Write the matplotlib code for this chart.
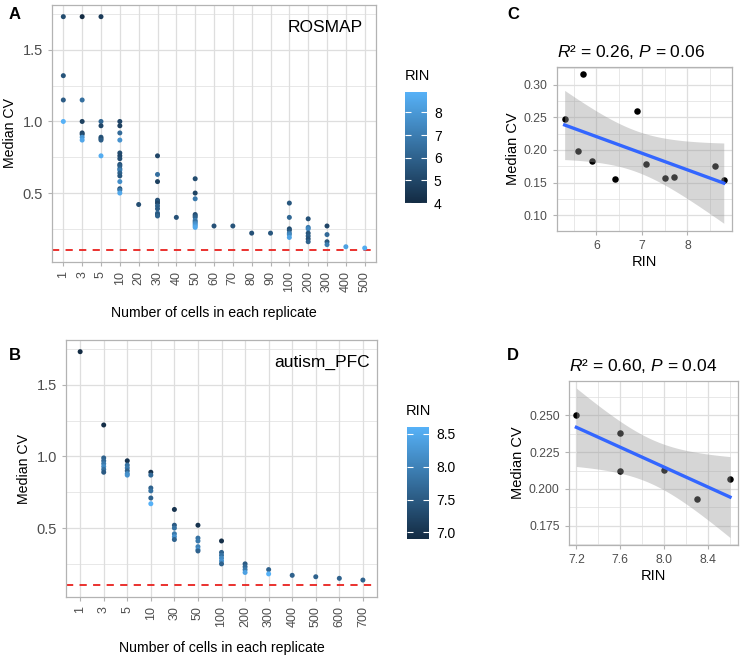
import numpy as np
import matplotlib
matplotlib.use("Agg")
import matplotlib.pyplot as plt
from matplotlib.colors import LinearSegmentedColormap, Normalize
from matplotlib.ticker import MultipleLocator

plt.rcParams['font.family'] = ['Liberation Sans', 'DejaVu Sans']
plt.rcParams['mathtext.fontset'] = 'custom'
plt.rcParams['mathtext.rm'] = 'Liberation Sans'
plt.rcParams['mathtext.it'] = 'Liberation Sans:italic'

# ---- Panel A: ROSMAP ----
a_levels = ['1', '3', '5', '10', '20', '30', '40', '50', '60', '70', '80', '90',
            '100', '200', '300', '400', '500']
a_cells = (['1'] * 4 + ['3'] * 7 + ['5'] * 7 + ['10'] * 17 + ['20'] + ['30'] * 11 + ['40']
           + ['50'] * 12 + ['60', '70', '80', '90'] + ['100'] * 7 + ['200'] * 7
           + ['300'] * 4 + ['400', '500'])
a_cv = [1.732, 1.32, 1.15, 1.00,
        1.732, 1.15, 1.00, 0.92, 0.91, 0.89, 0.87,
        1.732, 1.00, 0.97, 0.89, 0.88, 0.87, 0.76,
        1.00, 0.97, 0.92, 0.87, 0.78, 0.76, 0.74, 0.70, 0.69, 0.67, 0.66, 0.64, 0.62, 0.58, 0.53, 0.52, 0.50,
        0.42,
        0.76, 0.63, 0.58, 0.45, 0.44, 0.43, 0.41, 0.39, 0.36, 0.35, 0.34,
        0.33,
        0.60, 0.50, 0.46, 0.35, 0.34, 0.33, 0.31, 0.30, 0.29, 0.28, 0.27, 0.26,
        0.27, 0.27, 0.22, 0.22,
        0.43, 0.33, 0.25, 0.24, 0.22, 0.21, 0.19,
        0.32, 0.26, 0.25, 0.22, 0.20, 0.18, 0.16,
        0.27, 0.21, 0.16, 0.14,
        0.125, 0.116]
a_rin = [5.2, 5.5, 5.8, 8.9,
         4.0, 6.5, 4.8, 5.0, 5.2, 8.0, 8.5,
         4.6, 6.2, 5.0, 5.5, 5.2, 5.8, 8.7,
         5.0, 4.8, 6.3, 7.8, 5.2, 5.0, 5.3, 5.5, 5.8, 6.2, 7.0, 6.0, 5.6, 7.6, 5.4, 6.8, 8.6,
         5.3,
         5.0, 6.5, 4.8, 5.3, 5.6, 5.0, 6.0, 5.8, 6.3, 5.5, 6.0,
         5.4,
         5.2, 4.9, 6.8, 5.2, 5.6, 6.0, 7.0, 6.5, 7.4, 7.8, 8.2, 8.6,
         5.4, 5.5, 5.4, 5.6,
         5.6, 6.2, 5.2, 5.5, 6.8, 7.5, 8.4,
         5.4, 6.8, 7.4, 5.5, 5.8, 5.4, 6.0,
         5.0, 6.3, 5.6, 7.0,
         8.3, 8.7]

# ---- Panel B: autism_PFC ----
b_levels = ['1', '3', '5', '10', '30', '50', '100', '200', '300', '400', '500', '600', '700']
b_cells = (['1'] + ['3'] * 7 + ['5'] * 6 + ['10'] * 6 + ['30'] * 6 + ['50'] * 6
           + ['100'] * 6 + ['200'] * 4 + ['300'] * 2 + ['400', '500', '600', '700'])
b_cv = [1.732,
        1.22, 0.99, 0.97, 0.95, 0.93, 0.91, 0.89,
        0.97, 0.94, 0.92, 0.90, 0.88, 0.87,
        0.89, 0.87, 0.78, 0.76, 0.71, 0.67,
        0.63, 0.52, 0.50, 0.46, 0.44, 0.42,
        0.52, 0.43, 0.41, 0.37, 0.35, 0.34,
        0.41, 0.33, 0.31, 0.29, 0.27, 0.25,
        0.25, 0.23, 0.21, 0.19,
        0.21, 0.18,
        0.17, 0.16, 0.149, 0.137]
b_rin = [6.9,
         6.95, 7.6, 7.7, 7.9, 8.1, 7.8, 7.5,
         7.0, 7.8, 7.9, 7.6, 8.1, 8.2,
         7.0, 7.7, 7.6, 7.8, 7.6, 8.6,
         7.0, 7.5, 7.8, 7.9, 8.2, 7.6,
         7.0, 7.8, 7.9, 8.0, 8.2, 7.6,
         6.95, 7.6, 7.8, 8.1, 8.2, 7.6,
         7.5, 7.7, 7.9, 8.4,
         7.6, 8.6,
         7.6, 7.6, 7.6, 7.6]

# ---- Panels C, D: median CV vs RIN ----
c_rin = [5.3, 5.6, 5.7, 5.9, 6.4, 6.9, 7.1, 7.5, 7.7, 8.6, 8.8]
c_cv = [0.248, 0.199, 0.316, 0.183, 0.155, 0.259, 0.178, 0.157, 0.158, 0.176, 0.154]
d_rin = [7.2, 7.6, 7.6, 8.0, 8.3, 8.6]
d_cv = [0.250, 0.2377, 0.2122, 0.2129, 0.1929, 0.2068]

cv_cutoff = 0.1

cmap = LinearSegmentedColormap.from_list('gg', ['#132B43', '#56B1F7'])
GRID = '#DEDEDE'
BORDER = '#B3B3B3'
TXT = '#4D4D4D'


def style_axes(ax, xsize, ysize):
    for s in ax.spines.values():
        s.set_color(BORDER)
        s.set_linewidth(0.9)
    ax.tick_params(colors=BORDER, labelcolor=TXT, length=3, width=0.8)
    ax.tick_params(axis='x', labelsize=xsize)
    ax.tick_params(axis='y', labelsize=ysize)
    ax.grid(True, which='major', color=GRID, linewidth=0.9, zorder=0)
    ax.grid(True, which='minor', color=GRID, linewidth=0.5, zorder=0)
    ax.set_axisbelow(True)


def scatter_panel(fig, rect, cb_rect, levels, cells, cv, rin, label, cb_ticks, cb_fmt, lab_pos):
    ax = fig.add_axes(rect)
    x = np.array([levels.index(c) + 1 for c in cells])
    norm = Normalize(vmin=min(rin), vmax=max(rin))
    sc = ax.scatter(x, cv, c=rin, cmap=cmap, norm=norm, s=13, linewidths=0, zorder=3)
    ax.axhline(cv_cutoff, color='#E8211E', linestyle=(0, (4, 3.5)), linewidth=1.3, zorder=2)
    lo = cv_cutoff
    hi = max(cv)
    pad = 0.05 * (hi - lo)
    ax.set_ylim(lo - pad, hi + pad)
    ax.set_xlim(0.4, len(levels) + 0.6)
    ax.set_xticks(range(1, len(levels) + 1))
    ax.set_xticklabels(levels, rotation=90)
    ax.yaxis.set_major_locator(MultipleLocator(0.5))
    ax.yaxis.set_minor_locator(MultipleLocator(0.25))
    ax.tick_params(axis='y', which='minor', length=0)
    style_axes(ax, 9, 10.5)
    ax.grid(False, axis='x', which='minor')
    ax.set_xlabel('Number of cells in each replicate', fontsize=10.2, labelpad=10)
    ax.set_ylabel('Median CV', fontsize=10.2, labelpad=4)
    ax.text(lab_pos[0], lab_pos[1], label, transform=ax.transAxes, ha='right',
            va='baseline', fontsize=12.5)
    cax = fig.add_axes(cb_rect)
    cb = fig.colorbar(sc, cax=cax)
    cb.outline.set_visible(False)
    cb.set_ticks(cb_ticks)
    cb.set_ticklabels([cb_fmt.format(t) for t in cb_ticks])
    cax.tick_params(direction='in', color='white', length=4, width=0.8,
                    left=True, right=True, labelsize=10, labelcolor='black', pad=5)
    return ax, cax


def fit_panel(fig, rect, xs, ys, tval, title, xticks, yticks, xminor, yminor, yfmt):
    ax = fig.add_axes(rect)
    xs = np.array(xs)
    ys = np.array(ys)
    n = len(xs)
    b, a = np.polyfit(xs, ys, 1)
    resid = ys - (a + b * xs)
    s = np.sqrt(np.sum(resid ** 2) / (n - 2))
    xg = np.linspace(xs.min(), xs.max(), 80)
    yg = a + b * xg
    se = s * np.sqrt(1.0 / n + (xg - xs.mean()) ** 2 / np.sum((xs - xs.mean()) ** 2))
    ax.scatter(xs, ys, s=22, color='black', linewidths=0, zorder=3)
    ax.fill_between(xg, yg - tval * se, yg + tval * se, color='#999999', alpha=0.4,
                    linewidth=0, zorder=4)
    ax.plot(xg, yg, color='#3366FF', linewidth=2.4, zorder=5)
    lo = min(ys.min(), (yg - tval * se).min())
    hi = max(ys.max(), (yg + tval * se).max())
    ax.set_ylim(lo - 0.05 * (hi - lo), hi + 0.05 * (hi - lo))
    xr = xs.max() - xs.min()
    ax.set_xlim(xs.min() - 0.05 * xr, xs.max() + 0.05 * xr)
    ax.set_xticks(xticks)
    ax.set_yticks(yticks)
    ax.set_yticklabels([yfmt.format(v) for v in yticks])
    ax.xaxis.set_minor_locator(MultipleLocator(xminor))
    ax.yaxis.set_minor_locator(MultipleLocator(yminor))
    ax.tick_params(which='minor', length=0)
    style_axes(ax, 8.8, 8.8)
    ax.set_xlabel('RIN', fontsize=10.5, labelpad=2)
    ax.set_ylabel('Median CV', fontsize=10.5, labelpad=3)
    ax.set_title(title, loc='left', fontsize=12.5, pad=7)
    return ax


fig = plt.figure(figsize=(7.4, 6.56), dpi=100)

scatter_panel(fig, [0.0703, 0.6006, 0.4378, 0.3918], [0.5473, 0.6905, 0.0297, 0.1692],
              a_levels, a_cells, a_cv, a_rin, 'ROSMAP', [4, 5, 6, 7, 8], '{:g}', (0.96, 0.896))
scatter_panel(fig, [0.0892, 0.0899, 0.4203, 0.3918], [0.5496, 0.1784, 0.0301, 0.1703],
              b_levels, b_cells, b_cv, b_rin, 'autism_PFC', [7.0, 7.5, 8.0, 8.5], '{:.1f}',
              (0.977, 0.896))
fig.text(405 / 740, 1 - 80 / 656, 'RIN', fontsize=10.5, ha='left', va='baseline')
fig.text(406 / 740, 1 - 415 / 656, 'RIN', fontsize=10.5, ha='left', va='baseline')

fit_panel(fig, [0.7523, 0.6483, 0.2365, 0.25], c_rin, c_cv, 2.262,
          '$R$\u00b2 = 0.26, $P$ = 0.06', [6, 7, 8], [0.10, 0.15, 0.20, 0.25, 0.30],
          0.5, 0.025, '{:.2f}')
fit_panel(fig, [0.7685, 0.1692, 0.2284, 0.2505], d_rin, d_cv, 2.776,
          '$R$\u00b2 = 0.60, $P$ = 0.04', [7.2, 7.6, 8.0, 8.4], [0.175, 0.200, 0.225, 0.250],
          0.2, 0.0125, '{:.3f}')

for lab, px, py in [('A', 9, 19), ('B', 9, 360), ('C', 507, 19), ('D', 507, 360)]:
    fig.text(px / 740, 1 - py / 656, lab, fontsize=12, fontweight='bold', ha='left', va='baseline')

fig.savefig('out.png', dpi=100)
